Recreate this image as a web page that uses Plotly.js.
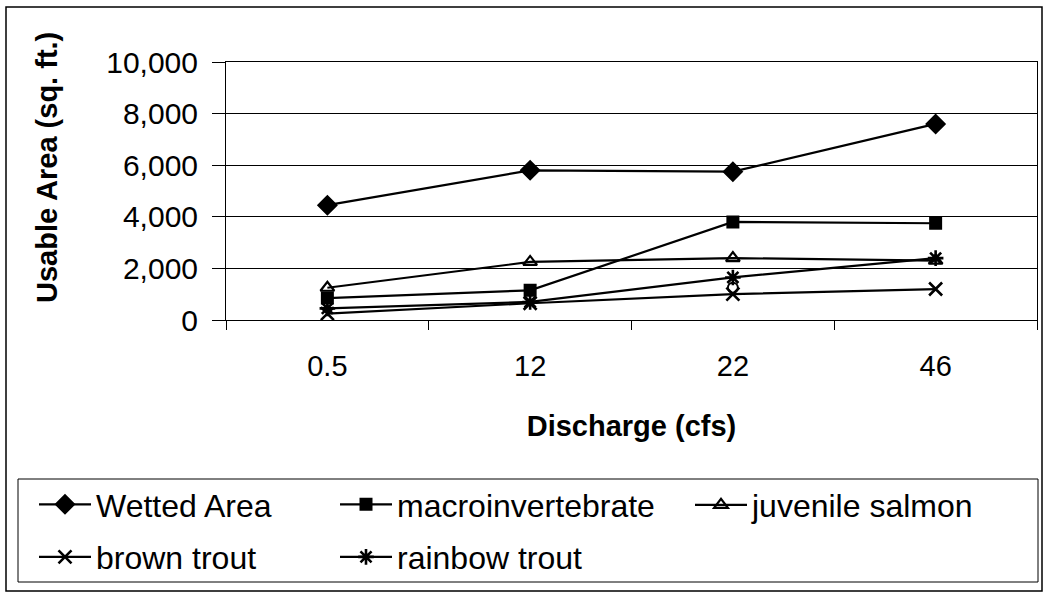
<!DOCTYPE html>
<html>
<head>
<meta charset="utf-8">
<script src="https://cdn.plot.ly/plotly-3.0.1.min.js"></script>
<style>html,body{margin:0;padding:0;background:#fff;}#chart{width:1044px;height:596px;}</style>
</head>
<body>
<div id="chart"></div>
<script>
// Data
const discharge = ["0.5", "12", "22", "46"];
const wettedArea = [4450, 5800, 5750, 7600];
const macroinvertebrate = [850, 1150, 3800, 3750];
const juvenileSalmon = [1250, 2250, 2400, 2300];
const brownTrout = [250, 650, 1000, 1200];
const rainbowTrout = [450, 700, 1650, 2400];
const extraPointX = ["22"];
const extraPointY = [1250];
const yTickVals = [0, 2000, 4000, 6000, 8000, 10000];
const yTickText = ["0", "2,000", "4,000", "6,000", "8,000", "10,000"];

const FONT = "Liberation Sans, Arial, sans-serif";
const ln = {color: "#000", width: 2.2};
function mk(symbol, size, lw) {
  return {symbol: symbol, size: size, color: "#000", line: {color: "#000", width: lw || 2}};
}

const traces = [
  {x: discharge, y: wettedArea, name: "Wetted Area", mode: "lines+markers", line: ln, marker: mk("diamond", 14), legend: "legend", legendgroup: "a"},
  {x: discharge, y: macroinvertebrate, name: "macroinvertebrate", mode: "lines+markers", line: ln, marker: mk("square", 11), legend: "legend2", legendgroup: "b"},
  {x: discharge, y: juvenileSalmon, name: "juvenile salmon", mode: "lines+markers", line: ln, marker: mk("triangle-up-open", 12, 2.2), legend: "legend3", legendgroup: "c"},
  {x: discharge, y: brownTrout, name: "brown trout", mode: "lines+markers", line: ln, marker: mk("x-thin-open", 13, 2.6), legend: "legend", legendgroup: "d"},
  {x: discharge, y: rainbowTrout, name: "rainbow trout", mode: "lines+markers", line: ln, marker: mk("asterisk-open", 13, 2.6), legend: "legend2", legendgroup: "e"},
  {x: extraPointX, y: extraPointY, name: "", mode: "markers", marker: {symbol: "circle-open", size: 10, color: "#000", line: {color: "#000", width: 2}}, showlegend: false}
];

// pixel helpers for paper coordinates (plot area: x 226..1037, y 62..320)
const PL = 226, PR = 1037, PT = 62, PB = 320;
const px = p => (p - PL) / (PR - PL);
const py = p => (PB - p) / (PB - PT);

const legendCommon = {
  orientation: "v",
  xanchor: "left",
  yanchor: "middle",
  traceorder: "grouped",
  tracegroupgap: 8,
  font: {family: FONT, size: 32, color: "#000"},
  bgcolor: "rgba(0,0,0,0)",
  borderwidth: 0,
  itemwidth: 52,
  itemclick: false,
  itemdoubleclick: false
};

const layout = {
  width: 1044,
  height: 596,
  margin: {l: PL, r: 1044 - PR, t: PT, b: 596 - PB},
  paper_bgcolor: "#fff",
  plot_bgcolor: "#fff",
  font: {family: FONT, color: "#000"},
  showlegend: true,
  xaxis: {
    type: "category",
    range: [-0.5, 3.5],
    tickson: "boundaries",
    ticks: "outside",
    ticklen: 9,
    tickcolor: "#000",
    tickwidth: 1,
    showline: true,
    linecolor: "#000",
    linewidth: 1,
    mirror: true,
    showgrid: false,
    zeroline: false,
    tickfont: {family: FONT, size: 29, color: "#000"},
    ticklabelstandoff: 20,
    title: {text: "Discharge (cfs)", font: {family: FONT, size: 29, color: "#000", weight: "bold"}, standoff: 34},
    fixedrange: true
  },
  yaxis: {
    range: [0, 10000],
    tickvals: yTickVals,
    ticktext: yTickText,
    ticks: "outside",
    ticklen: 13,
    tickcolor: "#000",
    tickwidth: 1,
    showline: true,
    linecolor: "#000",
    linewidth: 1,
    mirror: true,
    showgrid: true,
    gridcolor: "#000",
    gridwidth: 1,
    zeroline: false,
    tickfont: {family: FONT, size: 30, color: "#000"},
    ticklabelstandoff: 8,
    fixedrange: true
  },
  legend: Object.assign({}, legendCommon, {x: px(34), y: py(531)}),
  legend2: Object.assign({}, legendCommon, {x: px(335), y: py(531)}),
  legend3: Object.assign({}, legendCommon, {x: px(690), y: py(505)}),
  annotations: [
    {text: "Usable Area (sq. ft.)", xref: "paper", yref: "paper", x: px(47), y: py(168),
     textangle: -90, showarrow: false, xanchor: "center", yanchor: "middle",
     font: {family: FONT, size: 29, color: "#000", weight: "bold"}}
  ],
  shapes: [
    {type: "rect", xref: "paper", yref: "paper", x0: px(6), x1: px(1042), y0: py(591), y1: py(7),
     line: {color: "#000", width: 1.5}, fillcolor: "rgba(0,0,0,0)", layer: "below"},
    {type: "rect", xref: "paper", yref: "paper", x0: px(18), x1: px(1038), y0: py(582), y1: py(479),
     line: {color: "#000", width: 1}, fillcolor: "rgba(0,0,0,0)", layer: "below"}
  ]
};

Plotly.newPlot("chart", traces, layout, {displayModeBar: false, staticPlot: true});
</script>
</body>
</html>
